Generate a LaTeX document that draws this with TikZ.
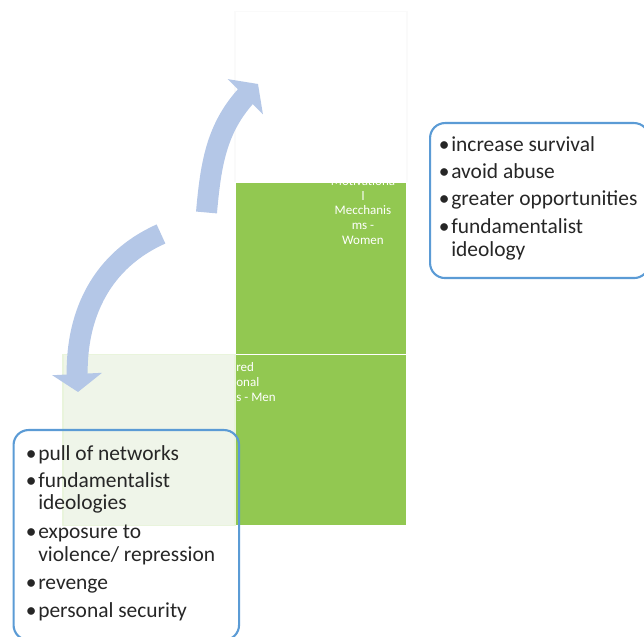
\documentclass[tikz,border=0pt]{standalone}
\usepackage{fontspec}
\setmainfont{Carlito}
\usetikzlibrary{arrows.meta,bending,positioning}

\definecolor{quadgreen}{HTML}{92C851}
\definecolor{palegreen}{HTML}{EFF5E9}
\definecolor{arrowblue}{HTML}{B4C7E7}
\definecolor{boxblue}{HTML}{5B9BD5}

\tikzset{
  quad/.style={minimum width=3.44cm, minimum height=3.43cm, inner sep=0pt, draw=white, line width=0.6pt},
  quadtext/.style={text=white, font=\fontsize{7.4}{8.5}\selectfont, inner sep=0pt},
  cyclearrow/.style={draw=arrowblue, line width=0.42cm, -{Triangle[length=0.36cm, width=0.98cm]}},
  listbox/.style={draw=boxblue, line width=1.2pt, rounded corners=0.3cm, inner sep=0pt},
  listtext/.style={text=black!85, font=\fontsize{12.2}{12.8}\selectfont, inner sep=0pt, align=left},
}

\begin{document}
\begin{tikzpicture}
    \useasboundingbox (0,0) rectangle (12.88,12.74);
    % quadrants
    \node[quad, fill=white, draw=black!2] (emptyq) at (6.42,10.80) {};
    \node[quad, fill=quadgreen] (womenq) at (6.42,7.37) {};
    \node[quad, fill=quadgreen] (menq) at (6.42,3.94) {};
    \begin{scope}
      \clip (womenq.south west) rectangle (womenq.north east);
      \node[quadtext, align=center] (womentext) at (7.26,8.53) {Motivationa\\l\\Mecchanis\\ms -\\Women};
    \end{scope}
    \node[quadtext, align=left, anchor=west] (mentext) at (4.72,5.10) {red\\onal\\s - Men};
    \node[quad, fill=palegreen, draw=quadgreen!20] (paleq) at (2.98,3.94) {};
    % arrows
    \coordinate (uptail) at (4.13,8.49);
    \coordinate (uptip) at (5.16,11.06);
    \draw[cyclearrow] (uptail) to[out=85,in=222] (uptip);
    \coordinate (downtail) at (3.22,8.06);
    \coordinate (downtip) at (1.56,4.90);
    \draw[cyclearrow] (downtail) to[out=204,in=95] (downtip);
    % lists
    \node[listbox, minimum width=4.38cm, minimum height=3.10cm, anchor=north west] (womenbox) at (8.58,10.30) {};
    \node[listtext, anchor=north west] (womenlist) at ([xshift=0.19cm, yshift=-0.27cm]womenbox.north west) {%
      \begin{tabular}{@{}l@{\hspace{1pt}}l@{}}
        \textbullet & increase survival\\[2.6pt]
        \textbullet & avoid abuse\\[2.2pt]
        \textbullet & greater opportunities\\[3.6pt]
        \textbullet & fundamentalist\\
                    & ideology
      \end{tabular}};
    \node[listbox, minimum width=4.51cm, minimum height=4.20cm, anchor=north west] (menbox) at (0.25,4.16) {};
    \node[listtext, anchor=north west] (menlist) at ([xshift=0.26cm, yshift=-0.30cm]menbox.north west) {%
      \begin{tabular}{@{}l@{\hspace{1pt}}l@{}}
        \textbullet & pull of networks\\[2.6pt]
        \textbullet & fundamentalist\\
                    & ideologies\\[3.8pt]
        \textbullet & exposure to\\
                    & violence/ repression\\[3.2pt]
        \textbullet & revenge\\[3.2pt]
        \textbullet & personal security
      \end{tabular}};
\end{tikzpicture}
\end{document}
